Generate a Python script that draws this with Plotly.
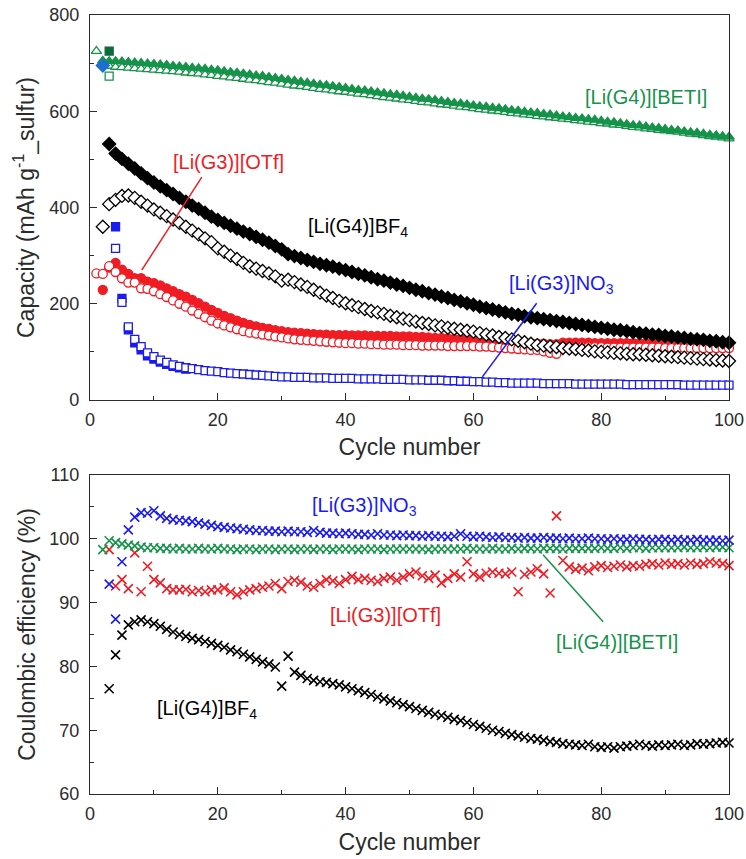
import plotly.graph_objects as go

# ---------------- data: capacity (top panel) ----------------
beti_charge_cycles = list(range(2, 101))
beti_charge = [705, 704, 704, 703, 702, 701, 700, 699, 698,
               697, 696, 694, 693, 692, 690, 689, 688, 686, 685,
               683, 681, 680, 678, 676, 674, 673, 671, 669, 667,
               665, 663, 661, 659, 657, 655, 654, 652, 650, 648,
               646, 644, 643, 641, 639, 637, 635, 634, 632, 630,
               628, 626, 625, 623, 621, 619, 617, 616, 614, 612,
               610, 609, 607, 606, 604, 602, 601, 599, 597, 596,
               594, 593, 591, 589, 588, 586, 585, 583, 582, 580,
               578, 577, 575, 573, 571, 570, 568, 566, 565, 563,
               561, 560, 558, 556, 555, 553, 551, 550, 548, 547]
beti_dis_cycles = list(range(1, 101))
beti_dis = [725, 698, 694, 692, 691, 690, 689, 688, 687, 686,
            685, 684, 683, 682, 680, 679, 678, 676, 675, 673,
            672, 670, 669, 667, 665, 664, 662, 660, 659, 657,
            655, 653, 652, 650, 648, 646, 645, 643, 641, 640,
            638, 636, 635, 633, 631, 629, 628, 626, 624, 623,
            621, 619, 618, 616, 614, 613, 611, 609, 608, 606,
            604, 603, 601, 600, 598, 596, 595, 593, 592, 590,
            589, 587, 586, 584, 583, 581, 580, 578, 577, 575,
            574, 572, 571, 569, 567, 566, 564, 563, 561, 560,
            558, 557, 555, 553, 552, 550, 548, 547, 545, 543]

bf4_charge_cycles = list(range(3, 101))
bf4_charge = [532, 512, 501, 491, 481, 471, 461, 452,
              444, 436, 428, 420, 412, 404, 397, 389, 381, 374,
              368, 362, 356, 350, 345, 339, 333, 327, 320, 313,
              303, 299, 295, 291, 287, 283, 280, 277, 273, 270,
              266, 262, 259, 255, 251, 248, 244, 240, 237, 233,
              229, 226, 222, 219, 215, 212, 208, 205, 201, 198,
              194, 191, 188, 185, 182, 179, 177, 174, 172, 170,
              168, 166, 164, 162, 160, 158, 156, 154, 152, 150,
              148, 146, 145, 143, 141, 139, 138, 136, 135, 133,
              132, 130, 129, 127, 126, 125, 123, 122, 120, 119]
bf4_dis_cycles = list(range(2, 101))
bf4_dis = [360, 407, 416, 424, 425, 420, 412, 404, 396,
           389, 382, 375, 368, 360, 352, 344, 336, 328, 315,
           308, 300, 293, 285, 278, 273, 268, 263, 257, 248,
           250, 245, 240, 235, 229, 223, 217, 212, 206, 201,
           197, 193, 189, 185, 182, 179, 175, 172, 169, 166,
           163, 160, 158, 155, 153, 150, 148, 146, 144, 142,
           139, 136, 134, 131, 129, 126, 123, 120, 117, 114,
           113, 111, 110, 108, 107, 106, 104, 103, 101, 100,
           99, 98, 97, 96, 95, 95, 94, 93, 92, 91,
           90, 89, 88, 87, 86, 85, 84, 83, 82, 81]

otf_charge_cycles = list(range(2, 101))
otf_charge = [229, 275, 285, 271, 262, 253, 253, 246, 243,
              238, 232, 226, 220, 215, 208, 201, 194, 187, 181,
              175, 170, 165, 160, 156, 153, 150, 148, 145, 143,
              141, 140, 139, 138, 137, 136, 136, 135, 135, 135,
              134, 134, 134, 133, 133, 133, 133, 132, 132, 132,
              131, 131, 130, 129, 129, 128, 127, 127, 126, 125,
              124, 124, 123, 122, 121, 121, 120, 119, 118, 117,
              117, 116, 116, 119, 119, 119, 119, 119, 118, 118,
              118, 118, 118, 118, 118, 118, 118, 118, 118, 118,
              117, 117, 117, 117, 117, 117, 117, 117, 117, 117]
otf_dis_cycles = list(range(1, 101))
otf_dis = [263, 262, 278, 266, 253, 244, 244, 232, 231, 226,
           220, 214, 207, 200, 194, 186, 179, 172, 165, 159,
           155, 151, 147, 143, 140, 138, 136, 134, 132, 130,
           128, 126, 125, 124, 123, 122, 121, 120, 119, 118,
           118, 117, 117, 116, 116, 115, 115, 115, 114, 114,
           114, 113, 113, 113, 113, 112, 112, 112, 112, 112,
           111, 111, 110, 109, 108, 107, 106, 105, 104, 104,
           101, 98, 96, 110, 110, 110, 110, 110, 110, 110,
           109, 109, 109, 109, 109, 109, 109, 109, 109, 108,
           108, 108, 108, 108, 108, 108, 108, 108, 108, 108]

no3_charge_cycles = list(range(4, 16))
no3_charge = [360, 211, 146, 119, 104, 92, 85, 79, 74, 70, 67, 64]
no3_dis_cycles = list(range(4, 101))
no3_dis = [315, 203, 152, 126, 111, 98, 90,
           83, 78, 73, 70, 67, 65, 63, 61, 60, 59,
           57, 56, 55, 54, 53, 52, 51, 50, 49, 48,
           48, 47, 47, 47, 46, 46, 46, 45, 45, 45,
           45, 44, 44, 44, 44, 43, 43, 43, 43, 42,
           42, 42, 41, 41, 41, 40, 40, 39, 39, 38,
           38, 37, 37, 36, 36, 35, 35, 35, 35, 35,
           34, 34, 34, 34, 34, 33, 33, 33, 33, 33,
           33, 33, 33, 32, 32, 32, 32, 32, 32, 32,
           32, 32, 31, 31, 31, 31, 31, 31, 31, 31]

# stray first-cycle points
extra_cycles = [2, 3, 3]
extra_values = [695, 725, 673]

# ---------------- data: coulombic efficiency (bottom panel) ----------------
ce_bf4_cycles = list(range(3, 101))
ce_bf4 = [76.5, 81.8, 84.9, 86.5, 87.0, 87.3, 87.0, 86.7,
          86.3, 85.8, 85.4, 85.0, 84.7, 84.4, 84.2, 83.9, 83.6, 83.3,
          83.0, 82.6, 82.3, 81.9, 81.5, 81.1, 80.7, 80.4, 79.9, 76.9,
          81.6, 79.1, 78.6, 78.1, 77.8, 77.6, 77.5, 77.3, 77.1, 76.8,
          76.5, 76.2, 75.9, 75.6, 75.2, 74.9, 74.6, 74.3, 74.0, 73.7,
          73.4, 73.1, 72.8, 72.5, 72.3, 72.0, 71.7, 71.5, 71.2, 70.9,
          70.6, 70.3, 70.0, 69.8, 69.5, 69.3, 69.1, 68.9, 68.7, 68.6,
          68.4, 68.2, 68.1, 67.9, 67.8, 67.7, 67.6, 67.8, 67.4, 67.3,
          67.4, 67.2, 67.4, 67.5, 67.6, 67.8, 67.6, 67.5, 67.7, 67.6,
          67.7, 67.8, 67.6, 67.7, 67.9, 67.8, 67.9, 68.0, 68.1, 68.0]
ce_no3_cycles = list(range(3, 101))
ce_no3 = [92.9, 87.4, 96.4, 101.4, 103.4, 104.1, 104.0, 104.4,
          103.6, 103.2, 103.0, 102.9, 102.8, 102.7, 102.5, 102.3, 102.1, 101.9,
          101.8, 101.7, 101.6, 101.5, 101.4, 101.3, 101.3, 101.2, 101.2, 101.1,
          101.2, 101.1, 101.1, 101.0, 101.3, 101.0, 100.9, 100.9, 100.8, 100.9,
          100.8, 100.7, 100.7, 100.6, 100.8, 100.6, 100.6, 100.5, 100.6, 100.5,
          100.5, 100.4, 100.5, 100.4, 100.4, 100.3, 100.4, 100.8, 100.4, 100.3,
          100.4, 100.3, 100.2, 100.3, 100.2, 100.2, 100.1, 100.2, 100.1, 100.1,
          100.2, 100.1, 100.1, 100.0, 100.1, 100.0, 100.0, 100.1, 100.0, 100.0,
          99.9, 100.0, 99.9, 99.9, 100.0, 99.9, 99.9, 99.8, 99.9, 99.9,
          99.8, 99.9, 99.8, 99.8, 99.9, 99.8, 99.8, 99.8, 99.7, 99.8]
ce_beti_cycles = list(range(2, 101))
ce_beti = [98.3, 99.7, 99.4, 99.2, 99.0, 98.9, 98.7, 98.6, 98.6,
           98.5, 98.5, 98.4, 98.5, 98.4, 98.4, 98.5, 98.4, 98.4, 98.5,
           98.4, 98.4, 98.3, 98.4, 98.4, 98.3, 98.4, 98.4, 98.3, 98.4,
           98.4, 98.3, 98.4, 98.4, 98.3, 98.4, 98.4, 98.3, 98.4, 98.4,
           98.4, 98.3, 98.4, 98.4, 98.4, 98.3, 98.4, 98.4, 98.4, 98.4,
           98.4, 98.4, 98.3, 98.4, 98.4, 98.4, 98.4, 98.4, 98.5, 98.4,
           98.4, 98.4, 98.5, 98.4, 98.4, 98.5, 98.4, 98.5, 98.5, 98.4,
           98.5, 98.5, 98.5, 98.4, 98.5, 98.5, 98.5, 98.5, 98.5, 98.6,
           98.5, 98.5, 98.6, 98.5, 98.6, 98.6, 98.5, 98.6, 98.6, 98.6,
           98.6, 98.6, 98.7, 98.6, 98.6, 98.7, 98.6, 98.7, 98.7, 98.6]
ce_otf_cycles = list(range(3, 101))
ce_otf = [98.3, 92.6, 93.6, 92.2, 97.8, 91.7, 95.7, 93.6,
          93.1, 92.2, 92.0, 92.0, 92.1, 91.7, 91.9, 91.7, 92.0, 92.0,
          92.3, 91.7, 91.2, 91.7, 92.0, 92.2, 92.4, 92.6, 93.0, 92.2,
          93.3, 93.5, 93.2, 92.6, 92.4, 93.0, 93.6, 93.4, 93.0, 93.6,
          94.1, 93.6, 93.8, 93.5, 93.3, 93.8, 94.0, 93.5, 94.0, 94.5,
          94.8, 94.2, 93.8, 94.3, 93.1, 93.8, 94.5, 94.0, 96.4, 94.5,
          94.0, 94.6, 94.8, 94.6, 94.5, 94.8, 91.7, 94.4, 94.8, 95.3,
          94.5, 91.5, 103.6, 96.6, 95.6, 95.2, 95.4, 95.0, 95.6, 95.8,
          95.5, 95.7, 95.9, 95.6, 95.8, 95.7, 96.0, 96.1, 95.9, 96.2,
          96.0, 96.1, 95.9, 96.2, 96.0, 96.1, 96.4, 96.2, 96.1, 95.8]

# ---------------- labels ----------------
top_labels = ["[Li(G4)][BETI]", "[Li(G3)][OTf]", "[Li(G4)]BF<sub>4</sub>", "[Li(G3)]NO<sub>3</sub>"]
top_label_x = [87.0, 21.6, 41.9, 73.8]
top_label_y = [630, 495, 358, 240]
bot_labels = ["[Li(G3)]NO<sub>3</sub>", "[Li(G3)][OTf]", "[Li(G4)][BETI]", "[Li(G4)]BF<sub>4</sub>"]
bot_label_x = [43.0, 46.2, 82.5, 18.3]
bot_label_y = [105.1, 88.1, 83.8, 73.3]

RED = "#f01c24"
BLUE = "#1b1bf0"
GREEN = "#16934a"
BLACK = "#000000"
DKGREEN = "#0d6b3a"
AXC = "#2b2b2b"
FONT = "Liberation Sans, Arial, sans-serif"
TICKSZ = 18
TITLESZ = 23
LABSZ = 20

fig = go.Figure()

def sc(x, y, sym, color, fill, size, xa="x", ya="y", lw=1.3):
    fig.add_trace(go.Scatter(
        x=x, y=y, mode="markers", xaxis=xa, yaxis=ya, cliponaxis=False,
        showlegend=False,
        marker=dict(symbol=sym, size=size, color=fill, line=dict(color=color, width=lw))))

# top panel
sc(no3_charge_cycles, no3_charge, "square", BLUE, BLUE, 8)
sc(no3_dis_cycles, no3_dis, "square", BLUE, "white", 8)
sc(otf_charge_cycles, otf_charge, "circle", RED, RED, 9)
sc(otf_dis_cycles, otf_dis, "circle", RED, "white", 9)
sc(bf4_dis_cycles, bf4_dis, "diamond", BLACK, "white", 10)
sc(bf4_charge_cycles, bf4_charge, "diamond", BLACK, BLACK, 10)
sc(beti_dis_cycles, beti_dis, "triangle-up", GREEN, "white", 9)
sc(beti_charge_cycles, beti_charge, "triangle-up", GREEN, GREEN, 9)
sc(extra_cycles[:1], extra_values[:1], "diamond", "#1f6fd0", "#1f6fd0", 10)
sc(extra_cycles[1:2], extra_values[1:2], "square", DKGREEN, DKGREEN, 8)
sc(extra_cycles[2:], extra_values[2:], "square", GREEN, "white", 8)

# bottom panel
sc(ce_bf4_cycles, ce_bf4, "x-thin", BLACK, BLACK, 9, "x2", "y2", 1.6)
sc(ce_otf_cycles, ce_otf, "x-thin", RED, RED, 9, "x2", "y2", 1.6)
sc(ce_beti_cycles, ce_beti, "x-thin", GREEN, GREEN, 9, "x2", "y2", 1.6)
sc(ce_no3_cycles, ce_no3, "x-thin", BLUE, BLUE, 9, "x2", "y2", 1.6)

top_colors = [GREEN, RED, BLACK, BLUE]
bot_colors = [BLUE, RED, GREEN, BLACK]
annotations = []
for t, x, y, c in zip(top_labels, top_label_x, top_label_y, top_colors):
    annotations.append(dict(text=t, x=x, y=y, xref="x", yref="y", showarrow=False,
                            font=dict(size=LABSZ, color=c, family=FONT)))
for t, x, y, c in zip(bot_labels, bot_label_x, bot_label_y, bot_colors):
    annotations.append(dict(text=t, x=x, y=y, xref="x2", yref="y2", showarrow=False,
                            font=dict(size=LABSZ, color=c, family=FONT)))

# leader lines (x0, y0, x1, y1)
leader_top = [(17.5, 463, 8.1, 270, RED), (69.9, 201, 61.4, 48, BLUE)]
leader_bot = [(70.9, 97.5, 80.3, 87.0, GREEN)]
shapes = []
for x0, y0, x1, y1, c in leader_top:
    shapes.append(dict(type="line", xref="x", yref="y", x0=x0, y0=y0, x1=x1, y1=y1,
                       line=dict(color=c, width=1.5)))
for x0, y0, x1, y1, c in leader_bot:
    shapes.append(dict(type="line", xref="x2", yref="y2", x0=x0, y0=y0, x1=x1, y1=y1,
                       line=dict(color=c, width=1.5)))

def axis(**kw):
    d = dict(ticks="inside", ticklen=7, tickwidth=1.3, tickcolor=AXC,
             showline=True, linecolor=AXC, linewidth=1.3, mirror=True,
             showgrid=False, zeroline=False, automargin=False,
             tickfont=dict(size=TICKSZ, color=AXC, family=FONT))
    d.update(kw)
    return d

def minor(dt):
    return dict(dtick=dt, ticks="inside", ticklen=4, tickcolor=AXC, tickwidth=1.3)

def title(text, standoff):
    return dict(text=text, font=dict(size=TITLESZ, color=AXC, family=FONT), standoff=standoff)

xdom = [90 / 746, 729 / 746]
fig.update_layout(
    width=746, height=859,
    margin=dict(l=0, r=0, t=0, b=0, autoexpand=False),
    paper_bgcolor="white", plot_bgcolor="white",
    font=dict(family=FONT, color=AXC),
    xaxis=axis(domain=xdom, anchor="y", range=[0, 100], dtick=20, minor=minor(10),
               ticklabelstandoff=3, title=title("Cycle number", 10)),
    yaxis=axis(domain=[(859 - 400) / 859, (859 - 15) / 859], anchor="x", range=[0, 800], dtick=200,
               minor=minor(100), ticklabelstandoff=6,
               title=title("Capacity (mAh g<sup>-1</sup>_sulfur)", 8)),
    xaxis2=axis(domain=xdom, anchor="y2", range=[0, 100], dtick=20, minor=minor(10),
                ticklabelstandoff=3, title=title("Cycle number", 11)),
    yaxis2=axis(domain=[(859 - 794) / 859, (859 - 475) / 859], anchor="x2", range=[60, 110], dtick=10,
                minor=minor(5), ticklabelstandoff=6,
                title=title("Coulombic efficiency (%)", 7)),
    annotations=annotations,
    shapes=shapes,
)

fig.write_html("out.html")
